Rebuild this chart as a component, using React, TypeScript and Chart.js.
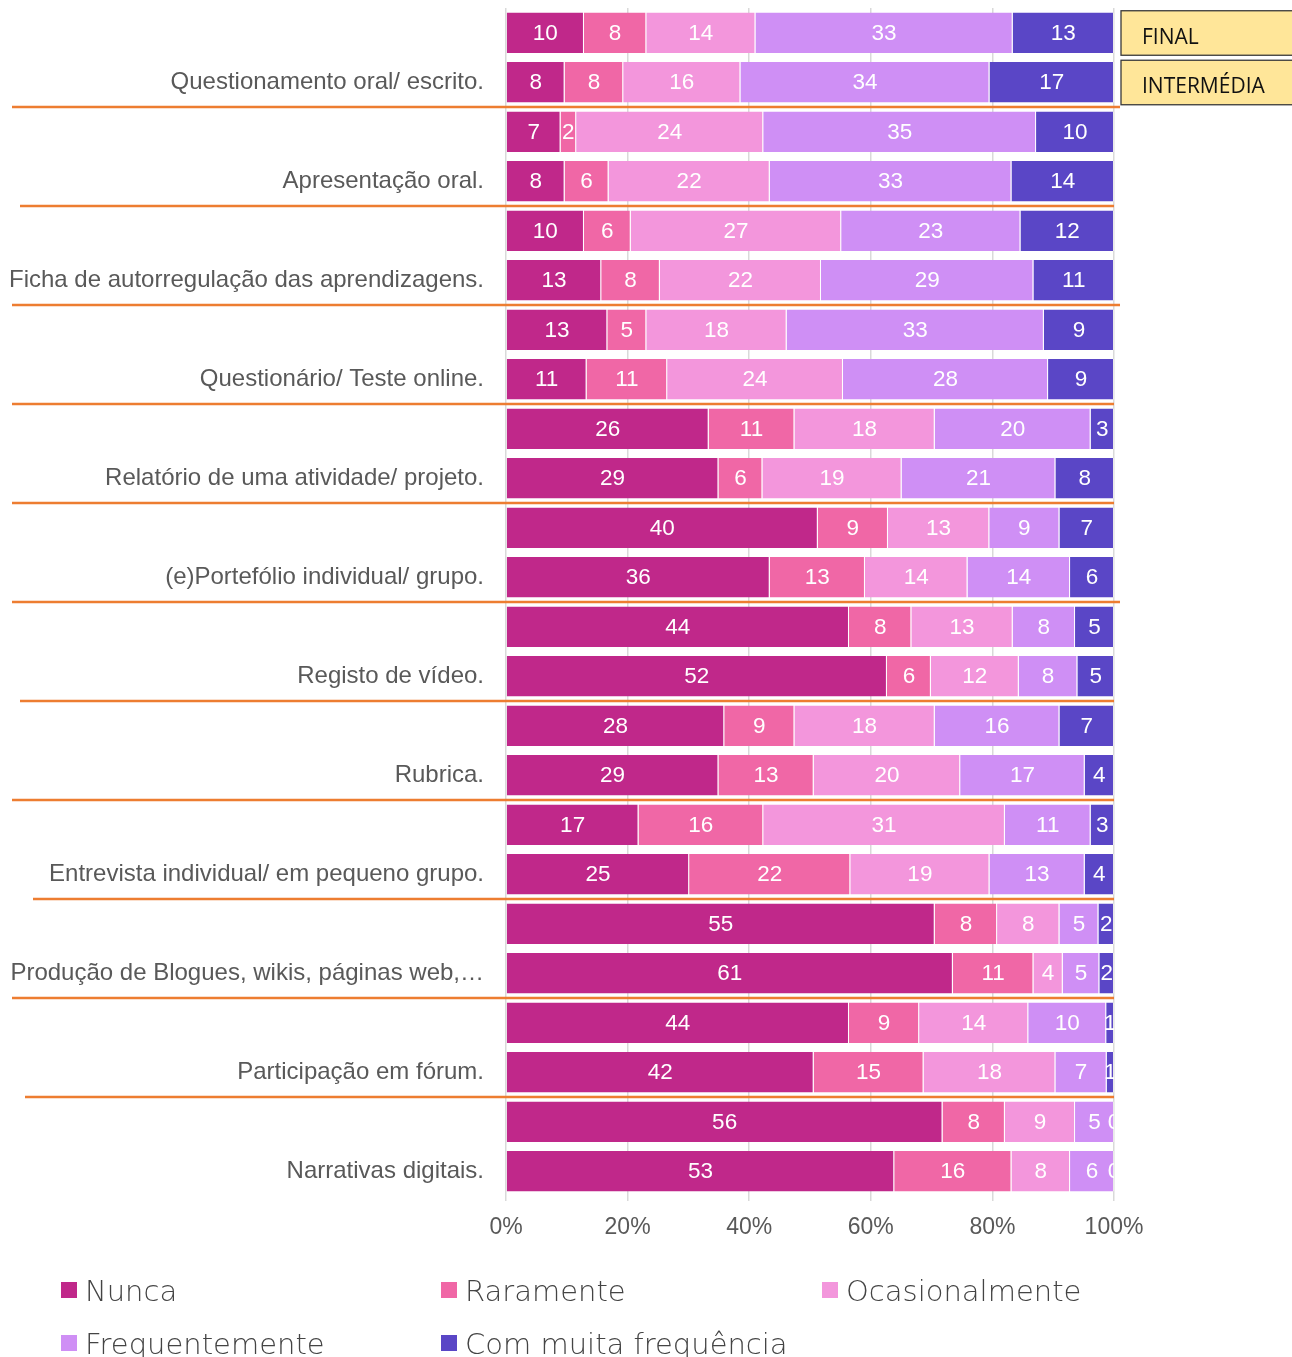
import React, { useEffect, useRef } from 'react';
import { Chart, registerables } from 'chart.js';

Chart.register(...registerables);

const categories = [
  'Questionamento oral/ escrito.',
  'Apresentação oral.',
  'Ficha de autorregulação das aprendizagens.',
  'Questionário/ Teste online.',
  'Relatório de uma atividade/ projeto.',
  '(e)Portefólio individual/ grupo.',
  'Registo de vídeo.',
  'Rubrica.',
  'Entrevista individual/ em pequeno grupo.',
  'Produção de Blogues, wikis, páginas web,…',
  'Participação em fórum.',
  'Narrativas digitais.',
];

const phaseNames = ['FINAL', 'INTERMÉDIA'];

const seriesNames = ['Nunca', 'Raramente', 'Ocasionalmente', 'Frequentemente', 'Com muita frequência'];
const seriesColors = ['#C0288A', '#F067A6', '#F396DC', '#CF8FF5', '#5A46C6'];

// counts: [Nunca, Raramente, Ocasionalmente, Frequentemente, Com muita frequência]
const finalCounts = [
  [10, 8, 14, 33, 13],
  [7, 2, 24, 35, 10],
  [10, 6, 27, 23, 12],
  [13, 5, 18, 33, 9],
  [26, 11, 18, 20, 3],
  [40, 9, 13, 9, 7],
  [44, 8, 13, 8, 5],
  [28, 9, 18, 16, 7],
  [17, 16, 31, 11, 3],
  [55, 8, 8, 5, 2],
  [44, 9, 14, 10, 1],
  [56, 8, 9, 5, 0],
];

const intermediaCounts = [
  [8, 8, 16, 34, 17],
  [8, 6, 22, 33, 14],
  [13, 8, 22, 29, 11],
  [11, 11, 24, 28, 9],
  [29, 6, 19, 21, 8],
  [36, 13, 14, 14, 6],
  [52, 6, 12, 8, 5],
  [29, 13, 20, 17, 4],
  [25, 22, 19, 13, 4],
  [61, 11, 4, 5, 2],
  [42, 15, 18, 7, 1],
  [53, 16, 8, 6, 0],
];

const xTickValues = [0, 20, 40, 60, 80, 100];

// style constants for the hand-drawn separators
const separatorStartX = [12, 20, 12, 12, 12, 12, 20, 12, 33, 12, 25];
const separatorEndX = [1120, 1114, 1120, 1114, 1114, 1120, 1114, 1114, 1114, 1114, 1114];

const W = 1292;
const H = 1357;
const SANS = "'Liberation Sans', Arial, sans-serif";

// rows: FINAL then INTERMÉDIA for each category
const rowCounts: number[][] = categories.flatMap((_, k) => [finalCounts[k], intermediaCounts[k]]);
const rowLabels: string[] = categories.flatMap((c) => ['', c]);

export default function App() {
  const ref = useRef<HTMLCanvasElement | null>(null);

  useEffect(() => {
    if (!ref.current) return;

    const dataLabels = {
      id: 'dataLabels',
      afterDatasetsDraw(chart: any) {
        const ctx = chart.ctx;
        const a = chart.chartArea;
        ctx.save();
        ctx.beginPath();
        ctx.rect(a.left, a.top, a.right - a.left, a.bottom - a.top);
        ctx.clip();
        ctx.fillStyle = '#ffffff';
        ctx.font = `22.5px ${SANS}`;
        ctx.textAlign = 'center';
        ctx.textBaseline = 'middle';
        chart.data.datasets.forEach((ds: any, si: number) => {
          const meta = chart.getDatasetMeta(si);
          meta.data.forEach((bar: any, ri: number) => {
            const cx = (bar.x + bar.base) / 2;
            ctx.fillText(String(rowCounts[ri][si]), cx, bar.y + 1);
          });
        });
        ctx.restore();
      },
    };

    const decorations = {
      id: 'decorations',
      afterDraw(chart: any) {
        const ctx = chart.ctx;
        const y = chart.scales.y;
        const a = chart.chartArea;
        ctx.save();
        // orange separators between category groups
        ctx.strokeStyle = '#ED7D31';
        ctx.lineWidth = 2.5;
        for (let k = 0; k < categories.length - 1; k++) {
          const py = (y.getPixelForValue(2 * k + 1) + y.getPixelForValue(2 * k + 2)) / 2;
          ctx.beginPath();
          ctx.moveTo(separatorStartX[k], py);
          ctx.lineTo(separatorEndX[k], py);
          ctx.stroke();
        }
        // phase boxes
        phaseNames.forEach((name, i) => {
          const cy = y.getPixelForValue(i);
          const top = cy - 22;
          const h = 44.5;
          const left = a.right + 7;
          ctx.fillStyle = '#FFE699';
          ctx.fillRect(left, top, W - left + 5, h);
          ctx.strokeStyle = '#3a3a3a';
          ctx.lineWidth = 1.3;
          ctx.strokeRect(left, top, W - left + 5, h);
          ctx.fillStyle = '#111111';
          ctx.font = `21px 'Open Sans', 'Noto Sans', sans-serif`;
          ctx.textAlign = 'left';
          ctx.textBaseline = 'alphabetic';
          ctx.fillText(name, left + 21, cy + 11);
        });
        // legend
        const colX = [61, 441, 822];
        const rowY = [1282, 1335];
        ctx.font = `200 29px 'DejaVu Sans', sans-serif`;
        ctx.textAlign = 'left';
        ctx.textBaseline = 'alphabetic';
        seriesNames.forEach((name, i) => {
          const x = colX[i % 3];
          const yy = rowY[Math.floor(i / 3)];
          ctx.fillStyle = seriesColors[i];
          ctx.fillRect(x, yy, 16, 16);
          ctx.fillStyle = '#444444';
          ctx.fillText(name, x + 24, yy + 18.5);
        });
        ctx.restore();
      },
    };

    const chart = new Chart(ref.current, {
      type: 'bar',
      data: {
        labels: rowLabels,
        datasets: seriesNames.map((name, si) => ({
          label: name,
          data: rowCounts.map((r) => (r[si] / r.reduce((s, v) => s + v, 0)) * 100),
          backgroundColor: seriesColors[si],
          borderColor: 'rgba(255,255,255,0.45)',
          borderWidth: { right: 1, left: 0, top: 0, bottom: 0 },
          borderSkipped: false,
          barPercentage: 0.82,
          categoryPercentage: 1,
        })),
      },
      options: {
        animation: false,
        responsive: false,
        indexAxis: 'y',
        layout: { padding: { top: 8, right: W - 1114, left: 0, bottom: 0 } },
        plugins: {
          legend: { display: false },
          tooltip: { enabled: false },
        },
        scales: {
          x: {
            stacked: true,
            min: 0,
            max: 100,
            afterBuildTicks: (s: any) => {
              s.ticks = xTickValues.map((v) => ({ value: v }));
            },
            afterFit: (s: any) => {
              s.height = H - 1196;
              s.paddingLeft = 0;
              s.paddingRight = 0;
            },
            ticks: {
              callback: (v: any) => v + '%',
              color: '#595959',
              font: { family: SANS, size: 23 },
              padding: 13,
              maxRotation: 0,
            },
            grid: { color: '#d9d9d9', lineWidth: 1.5, tickLength: 5, drawTicks: true },
            border: { display: false },
          },
          y: {
            stacked: true,
            afterFit: (s: any) => {
              s.width = 506;
              s.paddingTop = 0;
              s.paddingBottom = 0;
            },
            ticks: {
              color: '#595959',
              font: { family: SANS, size: 24 },
              padding: 22,
              autoSkip: false,
            },
            grid: { display: false, drawTicks: false },
            border: { display: false },
          },
        },
      } as any,
      plugins: [dataLabels, decorations],
    });

    return () => chart.destroy();
  }, []);

  return (
    <div style={{ position: 'absolute', left: 0, top: 0, width: W, height: H, background: '#fff' }}>
      <canvas ref={ref} width={W} height={H} style={{ width: W, height: H, display: 'block' }} />
    </div>
  );
}
